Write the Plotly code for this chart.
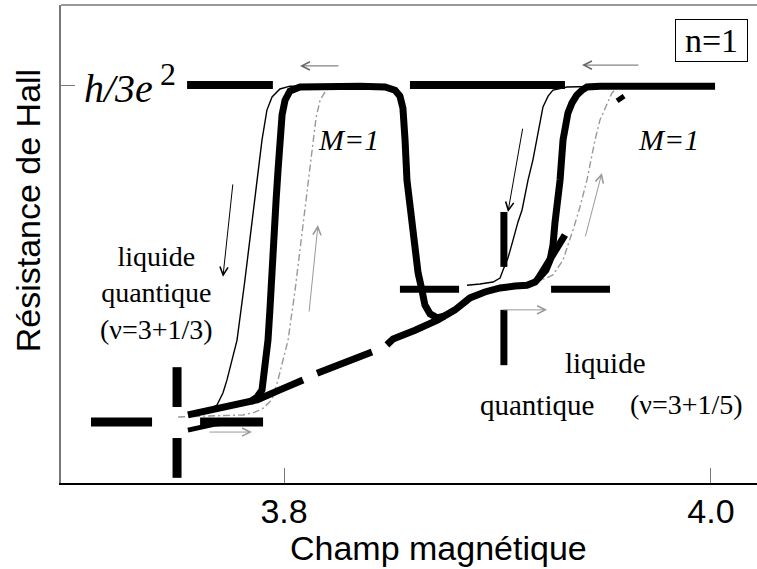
"""Hall resistance hysteresis near h/3e^2 (n=1) — plotly recreation."""

import plotly.graph_objects as go

# ---- data (field in T, Hall resistance normalised to h/3e^2) ----
thin_left_b = [3.7560, 3.7644, 3.7686, 3.7714, 3.7733, 3.7756, 3.7780, 3.7817,
               3.7850, 3.7874, 3.7897, 3.7920, 3.7944, 3.7981, 3.8028, 3.8215]
thin_left_r = [0.171, 0.183, 0.196, 0.226, 0.259, 0.309, 0.359, 0.510,
               0.661, 0.761, 0.862, 0.937, 0.970, 0.990, 0.997, 0.997]

thick_left_b = [3.7841, 3.7874, 3.7897, 3.7906, 3.7916, 3.7925, 3.7934, 3.7944,
                3.7953, 3.7963, 3.7972, 3.7981, 3.7991, 3.8005, 3.8028, 3.8075,
                3.8215, 3.8356, 3.8473, 3.8520, 3.8543, 3.8557, 3.8567, 3.8576,
                3.8590, 3.8604, 3.8618, 3.8628, 3.8646, 3.8660, 3.8684, 3.8717,
                3.8754]
thick_left_r = [0.204, 0.216, 0.234, 0.271, 0.309, 0.359, 0.435, 0.510,
                0.611, 0.711, 0.786, 0.862, 0.925, 0.962, 0.985, 0.995,
                0.997, 0.997, 0.995, 0.987, 0.972, 0.942, 0.862, 0.761,
                0.698, 0.636, 0.573, 0.528, 0.485, 0.447, 0.425, 0.415,
                0.420]

# lower branch, drawn with gaps (None) like the original
band_b = [3.7550, 3.7700, 3.7874, 3.7981, 3.8089, None,
          3.8155, 3.8286, 3.8412, None,
          3.8482, 3.8511, 3.8614, 3.8721, 3.8801, 3.8871, 3.8941, 3.9012,
          3.9082, 3.9138, 3.9176, 3.9199, 3.9227, 3.9246, 3.9260, 3.9269,
          3.9283, 3.9293, 3.9307, 3.9321, 3.9330, 3.9349, 3.9372, 3.9396,
          3.9419, 3.9480, 3.9714, 4.0019]
band_r = [0.171, 0.188, 0.209, 0.234, 0.259, None,
          0.276, 0.302, 0.329, None,
          0.347, 0.362, 0.384, 0.410, 0.435, 0.465, 0.480, 0.490,
          0.495, 0.497, 0.505, 0.518, 0.535, 0.560, 0.598, 0.653,
          0.711, 0.761, 0.862, 0.912, 0.930, 0.955, 0.975, 0.987,
          0.995, 0.997, 0.997, 0.997]

stub_b = [3.9190, 3.9246, 3.9316]
stub_r = [0.513, 0.565, 0.623]

low_left_b = [3.7550, 3.7607, 3.7677, 3.7733]
low_left_r = [0.133, 0.141, 0.148, 0.151]

speck_b = [3.9560, 3.9593]
speck_r = [0.960, 0.972]

thin_right_b = [3.8857, 3.8918, 3.8979, 3.9012, 3.9026, 3.9049, 3.9073, 3.9096,
                3.9115, 3.9143, 3.9166, 3.9185, 3.9199, 3.9213, 3.9237, 3.9260,
                3.9326, 3.9480]
thin_right_r = [0.497, 0.500, 0.505, 0.515, 0.535, 0.565, 0.611, 0.656,
                0.686, 0.761, 0.812, 0.862, 0.907, 0.945, 0.972, 0.987,
                0.995, 0.997]

gray_left_b = [3.7504, 3.7653, 3.7808, 3.7864, 3.7902, 3.7934, 3.7948, 3.7972,
               3.7995, 3.8019, 3.8052, 3.8075, 3.8098, 3.8117, 3.8136, 3.8150,
               3.8169, 3.8197, 3.8239, 3.8356]
gray_left_r = [0.166, 0.168, 0.171, 0.178, 0.188, 0.204, 0.216, 0.259,
               0.309, 0.359, 0.485, 0.585, 0.686, 0.774, 0.862, 0.917,
               0.962, 0.987, 0.995, 0.997]

gray_right_b = [3.9166, 3.9222, 3.9260, 3.9307, 3.9330, 3.9354, 3.9386, 3.9419,
                3.9438, 3.9457, 3.9480, 3.9513, 3.9536, 3.9560, 3.9621, 3.9948]
gray_right_r = [0.505, 0.513, 0.523, 0.560, 0.598, 0.636, 0.693, 0.761,
                0.812, 0.862, 0.912, 0.955, 0.980, 0.992, 0.997, 0.997]

# h/3e^2 reference level (dashed)
plateau_b = [3.7546, 3.7948, None, 3.8590, 3.9316]
plateau_r = [1.0, 1.0, None, 1.0, 1.0]

# crosshairs marking nu=3+1/3 and nu=3+1/5
cross1_h_b = [3.7096, 3.7382, None, 3.7607, 3.7902]
cross1_h_r = [0.153, 0.153, None, 0.153, 0.153]
cross1_v_b = [3.7499, 3.7499, None, 3.7499, 3.7499]
cross1_v_r = [0.291, 0.191, None, 0.113, 0.013]
cross2_h_b = [3.8543, 3.8820, None, 3.9251, 3.9527]
cross2_h_r = [0.487, 0.487, None, 0.487, 0.487]
cross2_v_b = [3.9030, 3.9030, None, 3.9030, 3.9030]
cross2_v_r = [0.681, 0.543, None, 0.435, 0.296]

# sweep-direction arrows: (head_b, head_r, tail_b, tail_r, colour)
arrows = [
    (3.8075, 1.048, 3.8262, 1.048, "#666666"),
    (3.9396, 1.050, 3.9667, 1.050, "#666666"),
    (3.7714, 0.518, 3.7761, 0.754, "#000000"),
    (3.8159, 0.648, 3.8117, 0.427, "#999999"),
    (3.7850, 0.128, 3.7644, 0.128, "#999999"),
    (3.9049, 0.681, 3.9119, 0.894, "#000000"),
    (3.9489, 0.779, 3.9410, 0.616, "#999999"),
    (3.9232, 0.435, 3.9021, 0.435, "#999999"),
]

SERIF = "Liberation Serif, Times New Roman, serif"
SANS = "Liberation Sans, Arial, sans-serif"

fig = go.Figure()


def add_line(b, r, width, color="black", dash="solid"):
    fig.add_trace(go.Scatter(x=b, y=r, mode="lines", connectgaps=False,
                             line=dict(color=color, width=width, dash=dash),
                             hoverinfo="skip"))


add_line(plateau_b, plateau_r, 8)
add_line(cross1_h_b, cross1_h_r, 9)
add_line(cross1_v_b, cross1_v_r, 9)
add_line(cross2_h_b, cross2_h_r, 7)
add_line(cross2_v_b, cross2_v_r, 7)
add_line(gray_left_b, gray_left_r, 1.4, "#999999", "7px,3px,2px,3px")
add_line(gray_right_b, gray_right_r, 1.4, "#999999", "7px,3px,2px,3px")
add_line(thin_left_b, thin_left_r, 1.4)
add_line(thin_right_b, thin_right_r, 1.4)
add_line(thick_left_b, thick_left_r, 7)
add_line(band_b, band_r, 7)
add_line(stub_b, stub_r, 7)
add_line(low_left_b, low_left_r, 5)
add_line(speck_b, speck_r, 5)

for hb, hr, tb, tr, col in arrows:
    fig.add_annotation(x=hb, y=hr, ax=tb, ay=tr, xref="x", yref="y",
                       axref="x", ayref="y", text="", showarrow=True,
                       arrowhead=5, arrowsize=1.6, arrowwidth=1, arrowcolor=col)


def label(text, b, r, size, family=SERIF, **kw):
    fig.add_annotation(x=b, y=r, xref="x", yref="y", text=text, showarrow=False,
                       xanchor="center", yanchor="middle",
                       font=dict(family=family, size=size, color="black"), **kw)


label("<i>h/3e</i>", 3.7225, 0.990, 40)
label("2", 3.7457, 1.028, 32)
label("n=1", 4.0002, 1.112, 34, bordercolor="black", borderwidth=1,
      width=69, height=39, borderpad=1)
label("<i>M=1</i>", 3.8300, 0.862, 30)
label("<i>M=1</i>", 3.9803, 0.862, 30)
label("liquide<br>quantique<br>(ν=3+1/3)", 3.7405, 0.477, 28, align="center")
label("liquide", 3.9508, 0.302, 29)
label("quantique", 3.9185, 0.196, 29)
label("(ν=3+1/5)", 3.9883, 0.196, 28)

fig.add_annotation(x=0.543, y=-0.136, xref="paper", yref="paper",
                   xanchor="center", yanchor="middle",
                   text="Champ magnétique", showarrow=False,
                   font=dict(family=SANS, size=34, color="black"))
fig.add_annotation(x=-0.047, y=0.569, xref="paper", yref="paper",
                   xanchor="center", yanchor="middle",
                   text="Résistance de Hall", showarrow=False, textangle=-90,
                   font=dict(family=SANS, size=34, color="black"))

# top frame line (no right-hand border in the original)
fig.add_shape(type="line", xref="paper", yref="paper", x0=0, x1=1, y0=1, y1=1,
              line=dict(color="#777777", width=1.5))

fig.update_xaxes(range=[3.69555, 4.02155], tickvals=[3.8, 4.0],
                 ticktext=["3.8", "4.0"], ticks="inside", ticklen=15,
                 tickcolor="#777777", tickwidth=1, showline=True,
                 linecolor="black", linewidth=1.5, showgrid=False,
                 zeroline=False, ticklabelstandoff=-3,
                 tickfont=dict(family=SANS, size=34, color="black"))
fig.update_yaxes(range=[0, 1.201], tickvals=[1.0], ticks="inside",
                 ticklen=14, tickcolor="#777777", tickwidth=1,
                 showticklabels=False, showline=True, linecolor="#777777",
                 linewidth=1.5, showgrid=False, zeroline=False)

fig.update_layout(width=757, height=569, showlegend=False,
                  margin=dict(l=61, r=0, t=5, b=86),
                  plot_bgcolor="white", paper_bgcolor="white",
                  hovermode=False)

# the page's default 8px body margin would shift the whole figure
fig.write_html("out.html", config={"displayModeBar": False},
               post_script="document.body.style.margin='0px';")
